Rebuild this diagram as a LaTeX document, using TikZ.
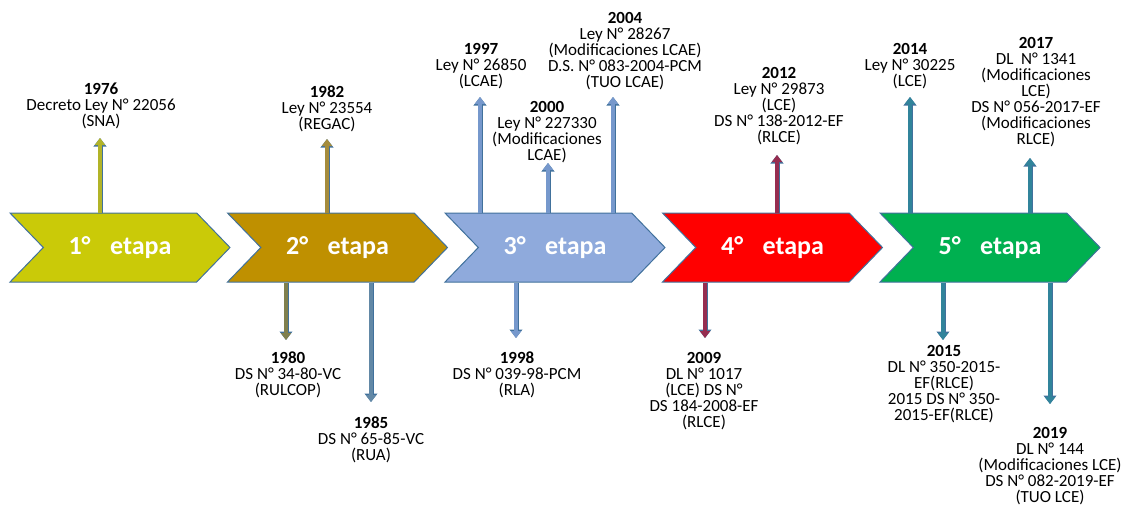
\documentclass[tikz,border=0pt]{standalone}
\usepackage{fontspec}
\setmainfont{Carlito}
\usetikzlibrary{shapes.symbols,arrows.meta}

\definecolor{rim}{RGB}{65,113,156}
\definecolor{etapaA}{RGB}{202,202,8}
\definecolor{etapaB}{RGB}{191,144,0}
\definecolor{etapaC}{RGB}{143,170,220}
\definecolor{etapaD}{RGB}{255,0,0}
\definecolor{etapaE}{RGB}{0,176,80}
\definecolor{flechaA}{RGB}{178,180,40}
\definecolor{flechaB}{RGB}{165,140,60}
\definecolor{flechaBb}{RGB}{128,128,78}
\definecolor{flechaBc}{RGB}{98,136,166}
\definecolor{flechaC}{RGB}{118,152,204}
\definecolor{flechaD}{RGB}{150,45,80}
\definecolor{flechaE}{RGB}{49,132,155}

\begin{document}
\begin{tikzpicture}[x=1pt,y=-1pt,
    etapa/.style={signal, signal from=west, signal to=east, signal pointer angle=92,
        draw=rim, line width=1pt, minimum width=220pt, minimum height=69pt,
        inner sep=0pt, text=white, font=\fontsize{26}{26}\selectfont\bfseries},
    hito/.style={align=center, inner sep=0pt, font=\fontsize{17}{16}\selectfont},
    flecha/.style={draw=#1, line width=3.2pt, -{Triangle[width=10pt,length=7pt]},
        preaction={draw=rim, line width=5pt, -{Triangle[width=12.5pt,length=8.5pt]}}}]

    \useasboundingbox (0,0) rectangle (1129,507);

    % etapas
    \node[etapa, fill=etapaA] (e1) at (120,247.5) {1°\hspace{0.75em}etapa};
    \node[etapa, fill=etapaB] (e2) at (337.5,247.5) {2°\hspace{0.75em}etapa};
    \node[etapa, fill=etapaC] (e3) at (555,247.5) {3°\hspace{0.75em}etapa};
    \node[etapa, fill=etapaD] (e4) at (772.5,247.5) {4°\hspace{0.75em}etapa};
    \node[etapa, fill=etapaE] (e5) at (990,247.5) {5°\hspace{0.75em}etapa};

    % hitos arriba
    \node[hito, anchor=north] (l1976) at (101,82.5) {\textbf{1976}\\Decreto Ley N° 22056\\(SNA)};
    \node[hito, anchor=north] (l1982) at (327,86) {\textbf{1982}\\Ley N° 23554\\(REGAC)};
    \node[hito, anchor=north] (l1997) at (481,43.5) {\textbf{1997}\\Ley N° 26850\\(LCAE)};
    \node[hito, anchor=north] (l2000) at (547,101.5) {\textbf{2000}\\Ley N° 227330\\(Modificaciones\\LCAE)};
    \node[hito, anchor=north] (l2004) at (625,12.5) {\textbf{2004}\\Ley N° 28267\\(Modificaciones LCAE)\\D.S. N° 083-2004-PCM\\(TUO LCAE)};
    \node[hito, anchor=north] (l2012) at (779,67.5) {\textbf{2012}\\Ley N° 29873\\(LCE)\\DS N° 138-2012-EF\\(RLCE)};
    \node[hito, anchor=north] (l2014) at (910,43.5) {\textbf{2014}\\Ley N° 30225\\(LCE)};
    \node[hito, anchor=north] (l2017) at (1036,37.5) {\textbf{2017}\\DL\ \ N° 1341\\(Modificaciones\\LCE)\\DS N° 056-2017-EF\\(Modificaciones\\RLCE)};

    % hitos abajo
    \node[hito, anchor=north] (l1980) at (288,351.5) {\textbf{1980}\\DS N° 34-80-VC\\(RULCOP)};
    \node[hito, anchor=north] (l1985) at (371,416.5) {\textbf{1985}\\DS N° 65-85-VC\\(RUA)};
    \node[hito, anchor=north] (l1998) at (517,351.5) {\textbf{1998}\\DS N° 039-98-PCM\\(RLA)};
    \node[hito, anchor=north] (l2009) at (704,352.5) {\textbf{2009}\\DL N° 1017\\(LCE) DS N°\\DS 184-2008-EF\\(RLCE)};
    \node[hito, anchor=north] (l2015) at (944,345.5) {\textbf{2015}\\DL N° 350-2015-\\EF(RLCE)\\2015 DS N° 350-\\2015-EF(RLCE)};
    \node[hito, anchor=north] (l2019) at (1050,427) {\textbf{2019}\\DL N° 144\\(Modificaciones LCE)\\DS N° 082-2019-EF\\(TUO LCE)};

    % puntas de flecha
    \coordinate (a1976) at (100,138);
    \coordinate (a1982) at (327,139);
    \coordinate (a1997) at (480,97);
    \coordinate (a2000) at (548,163);
    \coordinate (a2004) at (613,97);
    \coordinate (a2012) at (777,155);
    \coordinate (a2014) at (910,97);
    \coordinate (a2017) at (1030,158);
    \coordinate (a1980) at (286,340);
    \coordinate (a1985) at (371,402);
    \coordinate (a1998) at (516,338);
    \coordinate (a2009) at (705,338);
    \coordinate (a2015) at (943,340);
    \coordinate (a2019) at (1050,404);

    \draw[flecha=flechaA] (e1.north -| a1976) -- (a1976);
    \draw[flecha=flechaB] (e2.north -| a1982) -- (a1982);
    \draw[flecha=flechaBb] (e2.south -| a1980) -- (a1980);
    \draw[flecha=flechaBc] (e2.south -| a1985) -- (a1985);
    \draw[flecha=flechaC] (e3.north -| a1997) -- (a1997);
    \draw[flecha=flechaC] (e3.north -| a2000) -- (a2000);
    \draw[flecha=flechaC] (e3.north -| a2004) -- (a2004);
    \draw[flecha=flechaC] (e3.south -| a1998) -- (a1998);
    \draw[flecha=flechaD] (e4.north -| a2012) -- (a2012);
    \draw[flecha=flechaD] (e4.south -| a2009) -- (a2009);
    \draw[flecha=flechaE] (e5.north -| a2014) -- (a2014);
    \draw[flecha=flechaE] (e5.north -| a2017) -- (a2017);
    \draw[flecha=flechaE] (e5.south -| a2015) -- (a2015);
    \draw[flecha=flechaE] (e5.south -| a2019) -- (a2019);

\end{tikzpicture}
\end{document}
